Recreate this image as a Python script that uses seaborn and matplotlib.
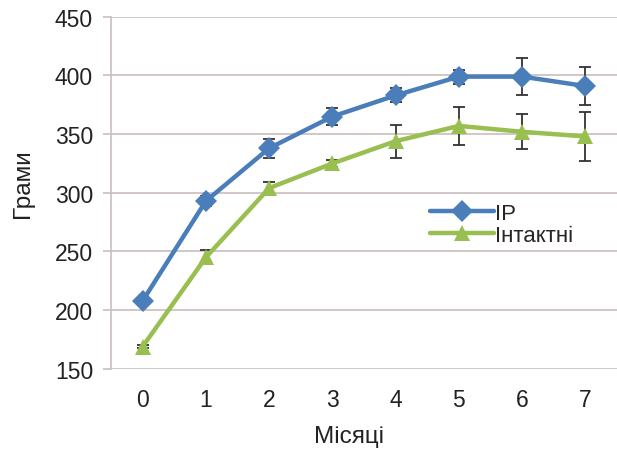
import numpy as np
import pandas as pd
import seaborn as sns
import matplotlib.pyplot as plt

months = [0, 1, 2, 3, 4, 5, 6, 7]
ip_mean = [208, 293, 338, 365, 383, 399, 399, 391]
ip_err = [1, 4, 8, 7, 6, 6, 16, 16]
intact_mean = [169, 245, 304, 325, 344, 357, 352, 348]
intact_err = [1, 6, 5, 3, 14, 16, 15, 21]

series_names = ['IP', 'Інтактні']
colors = ['#4A7EBB', '#98BF4F']
markers = ['D', '^']


def build_frame():
    df = pd.DataFrame({
        'month': months * 2,
        'grams': ip_mean + intact_mean,
        'err': ip_err + intact_err,
        'group': [series_names[0]] * len(months) + [series_names[1]] * len(months),
    })
    return df


def draw(df):
    sns.set_style('white')
    plt.rcParams['font.family'] = ['Liberation Sans', 'DejaVu Sans']
    fig = plt.figure(figsize=(6.17, 4.56), dpi=100)
    ax = fig.add_axes([0.18, 0.189, 0.82, 0.772])

    grid_color = '#C9BDBD'
    ax.set_yticks(np.arange(150, 451, 50))
    for y in np.arange(150, 451, 50):
        ax.axhline(y, color=grid_color, lw=1.2, zorder=0)

    # error bars first, so the markers sit on top
    for name in series_names:
        sub = df[df['group'] == name]
        ax.errorbar(sub['month'], sub['grams'], yerr=sub['err'], fmt='none',
                    ecolor='#333333', elinewidth=1.3, capsize=4, capthick=1.3, zorder=2)

    sns.lineplot(data=df, x='month', y='grams', hue='group', style='group',
                 palette=dict(zip(series_names, colors)),
                 markers=dict(zip(series_names, markers)), dashes=False,
                 linewidth=3.2, markersize=11, markeredgewidth=0, ax=ax, zorder=3)

    ax.set_xlim(-0.5, 7.5)
    ax.set_ylim(150, 450)
    ax.set_xticks(months)
    ax.tick_params(axis='y', which='both', left=True, length=6, width=1.2,
                   color=grid_color, labelsize=16.5, pad=7, labelcolor='#222222')
    ax.tick_params(axis='x', bottom=False, labelsize=16.5, pad=10, labelcolor='#222222')
    for side in ['top', 'right', 'bottom']:
        ax.spines[side].set_visible(False)
    ax.spines['left'].set_color(grid_color)
    ax.spines['left'].set_linewidth(1.2)

    ax.set_xlabel('Місяці', fontsize=17.5, color='#222222')
    ax.set_ylabel('Грами', fontsize=17.5, color='#222222')
    ax.xaxis.set_label_coords(0.47, -0.16)
    ax.yaxis.set_label_coords(-0.152, 0.53)

    handles, labels = ax.get_legend_handles_labels()
    ax.legend(handles, labels, loc='upper left', bbox_to_anchor=(0.63, 0.472),
              frameon=False, fontsize=16, handlelength=2.9, handletextpad=0.05,
              labelspacing=0.05, borderaxespad=0, borderpad=0)

    fig.savefig('out.png', dpi=100, facecolor='white')


def main():
    df = build_frame()
    draw(df)


if __name__ == '__main__':
    main()
